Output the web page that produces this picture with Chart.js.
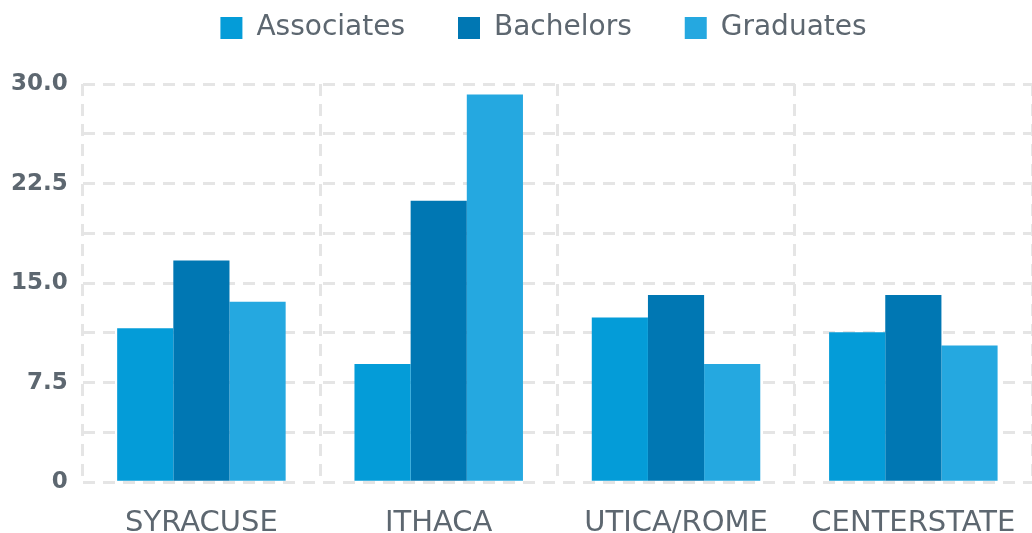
<!DOCTYPE html>
<html>
<head>
<meta charset="utf-8">
<script src="https://cdn.jsdelivr.net/npm/chart.js@4"></script>
<style>
  html, body { margin: 0; padding: 0; background: #fff; }
  #wrap { width: 1032px; height: 533px; }
</style>
</head>
<body>
<div id="wrap"><canvas id="chart"></canvas></div>
<script>
const categories = ["SYRACUSE", "ITHACA", "UTICA/ROME", "CENTERSTATE"];
const associates = [11.6, 8.9, 12.4, 11.3];
const bachelors = [16.7, 21.2, 14.1, 14.1];
const graduates = [13.6, 29.2, 8.9, 10.3];
const yTickValues = [0, 7.5, 15, 22.5, 30];
const yTickLabels = ["0", "7.5", "15.0", "22.5", "30.0"];

const gridColor = "#e5e5e5";
const textColor = "#5d6770";
const fontFamily = "'DejaVu Sans', sans-serif";

// push the legend a little right and leave more room under it
const legendTweak = {
  id: "legendTweak",
  beforeInit(chart) {
    const fit = chart.legend.fit;
    chart.legend.fit = function () {
      fit.call(this);
      this.height += 32;
    };
  },
  afterUpdate(chart) {
    chart.legend.left += 59;
  },
};

new Chart(document.getElementById("chart"), {
  type: "bar",
  data: {
    labels: categories,
    datasets: [
      { label: "Associates", data: associates, backgroundColor: "#049cd8" },
      { label: "Bachelors", data: bachelors, backgroundColor: "#0077b3" },
      { label: "Graduates", data: graduates, backgroundColor: "#25a8e0" },
    ],
  },
  plugins: [legendTweak],
  options: {
    responsive: true,
    maintainAspectRatio: false,
    animation: false,
    categoryPercentage: 0.71,
    barPercentage: 1.0,
    layout: { padding: { left: -4, right: 0, top: -39, bottom: -32 } },
    plugins: {
      legend: {
        position: "top",
        labels: {
          boxWidth: 22,
          boxHeight: 22,
          padding: 53,
          color: textColor,
          font: { family: fontFamily, size: 28 },
        },
      },
      tooltip: { enabled: false },
    },
    scales: {
      x: {
        afterFit: (scale) => {
          scale.paddingRight = 0;
        },
        grid: { color: gridColor, lineWidth: 3, drawTicks: false },
        border: { display: false, dash: [12, 8] },
        ticks: {
          color: textColor,
          padding: 24,
          font: { family: fontFamily, size: 29 },
        },
      },
      y: {
        min: 0,
        max: 30,
        grid: { color: gridColor, lineWidth: 3, drawTicks: false },
        border: { display: false, dash: [12, 8] },
        ticks: {
          stepSize: 3.75,
          padding: 15,
          color: textColor,
          font: { family: fontFamily, size: 23, weight: "bold" },
          callback: (v) => {
            const i = yTickValues.indexOf(v);
            return i === -1 ? "" : yTickLabels[i];
          },
        },
      },
    },
  },
});
</script>
</body>
</html>
